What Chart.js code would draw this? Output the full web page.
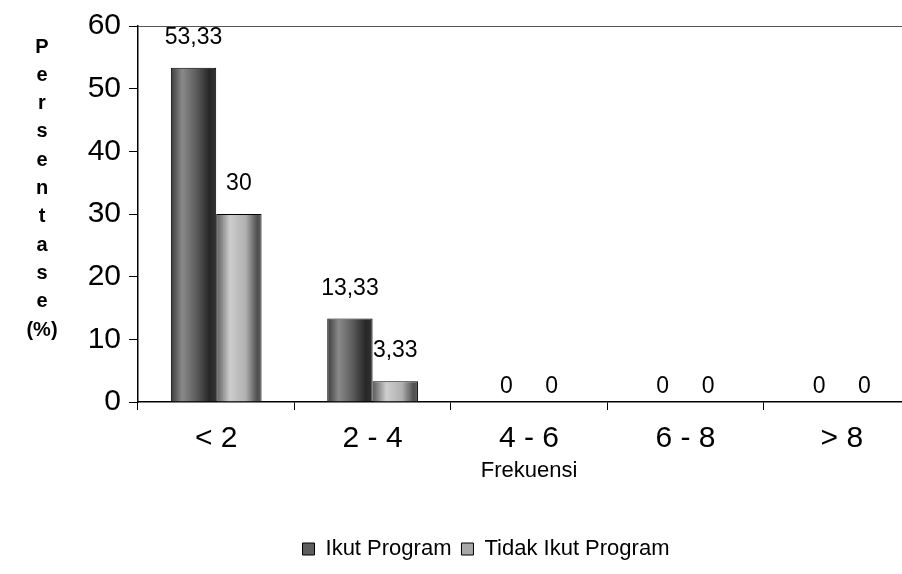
<!DOCTYPE html>
<html><head><meta charset="utf-8">
<script src="https://cdn.jsdelivr.net/npm/chart.js@4.4.1/dist/chart.umd.min.js"></script>
<style>
html,body{margin:0;padding:0;overflow:hidden;background:#fff;width:902px;height:574px}
#wrap{position:absolute;left:0;top:0;width:920px;height:574px}
</style>
</head><body><div id="wrap"><canvas id="c" width="920" height="574"></canvas></div>
<script>
const categories = ['< 2', '2 - 4', '4 - 6', '6 - 8', '> 8'];
const ikutProgram = [53.33, 13.33, 0, 0, 0];
const tidakIkutProgram = [30, 3.33, 0, 0, 0];
const seriesNames = ['Ikut Program', 'Tidak Ikut Program'];
const yTickValues = [0, 10, 20, 30, 40, 50, 60];
const yTitleLetters = ['P', 'e', 'r', 's', 'e', 'n', 't', 'a', 's', 'e', '(%)'];
const xTitleText = 'Frekuensi';

const FONT = '"Liberation Sans", Arial, Helvetica, sans-serif';
const barStops = [
  [[0, '#3a3a3a'], [0.25, '#8a8a8a'], [0.55, '#5e5e5e'], [0.85, '#262626'], [1, '#333333']],
  [[0, '#5a5a5a'], [0.3, '#cdcdcd'], [0.65, '#b0b0b0'], [0.9, '#505050'], [1, '#5a5a5a']]
];

const barTexture = {
  id: 'barTexture',
  beforeDatasetsDraw(chart) {
    const ctx = chart.ctx;
    chart.data.datasets.forEach((ds, di) => {
      const meta = chart.getDatasetMeta(di);
      meta.data.forEach(el => {
        const p = el.getProps(['x', 'width'], true);
        const g = ctx.createLinearGradient(p.x - p.width / 2, 0, p.x + p.width / 2, 0);
        barStops[di].forEach(s => g.addColorStop(s[0], s[1]));
        el.options = Object.assign({}, el.options, { backgroundColor: g });
      });
    });
  }
};

const valueLabels = {
  id: 'valueLabels',
  afterDatasetsDraw(chart) {
    const ctx = chart.ctx;
    ctx.save();
    ctx.font = '23px ' + FONT;
    ctx.fillStyle = '#000';
    ctx.textAlign = 'center';
    ctx.textBaseline = 'middle';
    chart.data.datasets.forEach((ds, di) => {
      const meta = chart.getDatasetMeta(di);
      meta.data.forEach((el, i) => {
        const v = ds.data[i];
        const p = el.getProps(['x', 'y'], true);
        const off = v > 0 ? 30 : 15;
        ctx.fillText(String(v).replace('.', ','), p.x, p.y - off);
      });
    });
    ctx.restore();
  }
};

const frameAndTitle = {
  id: 'frameAndTitle',
  afterDraw(chart) {
    const ctx = chart.ctx;
    const a = chart.chartArea;
    ctx.save();
    ctx.strokeStyle = '#555';
    ctx.lineWidth = 1;
    ctx.beginPath();
    ctx.moveTo(a.left, a.top + 0.5);
    ctx.lineTo(a.right, a.top + 0.5);
    ctx.stroke();
    ctx.font = 'bold 20px ' + FONT;
    ctx.fillStyle = '#000';
    ctx.textAlign = 'center';
    ctx.textBaseline = 'middle';
    const y0 = 47, step = 28.3;
    yTitleLetters.forEach((t, i) => ctx.fillText(t, 42, y0 + i * step));
    ctx.restore();
  }
};

new Chart(document.getElementById('c'), {
  type: 'bar',
  data: {
    labels: categories,
    datasets: [
      { label: seriesNames[0], data: ikutProgram, backgroundColor: '#5e5e5e', borderColor: '#000', borderWidth: 1 },
      { label: seriesNames[1], data: tidakIkutProgram, backgroundColor: '#a8a8a8', borderColor: '#000', borderWidth: 1 }
    ]
  },
  options: {
    responsive: false,
    animation: false,
    events: [],
    datasets: { bar: { barPercentage: 1, categoryPercentage: 0.58 } },
    layout: { padding: { left: 52, right: 0, top: 22, bottom: 4 } },
    plugins: {
      legend: {
        position: 'bottom',
        labels: { font: { size: 22, family: FONT }, color: '#000', boxWidth: 12, boxHeight: 12, padding: 10 }
      },
      tooltip: { enabled: false }
    },
    scales: {
      y: {
        min: 0, max: 60,
        afterFit(s) { s.width = 86; },
        afterBuildTicks(s) { s.ticks = yTickValues.map(v => ({ value: v })); },
        ticks: { font: { size: 30, family: FONT }, color: '#000', padding: 8 },
        grid: { drawOnChartArea: false, tickLength: 9, color: '#000' },
        border: { color: '#000', width: 1.5 }
      },
      x: {
        afterFit(s) { s.height = 126; },
        ticks: { font: { size: 30, family: FONT }, color: '#000', padding: 11, maxRotation: 0 },
        grid: { offset: true, drawOnChartArea: false, tickLength: 8, color: '#000' },
        border: { color: '#000', width: 1.5 },
        title: { display: true, text: xTitleText, font: { size: 22, family: FONT }, color: '#000', padding: { top: 4, bottom: 44 } }
      }
    }
  },
  plugins: [barTexture, valueLabels, frameAndTitle]
});
</script>
</body></html>
